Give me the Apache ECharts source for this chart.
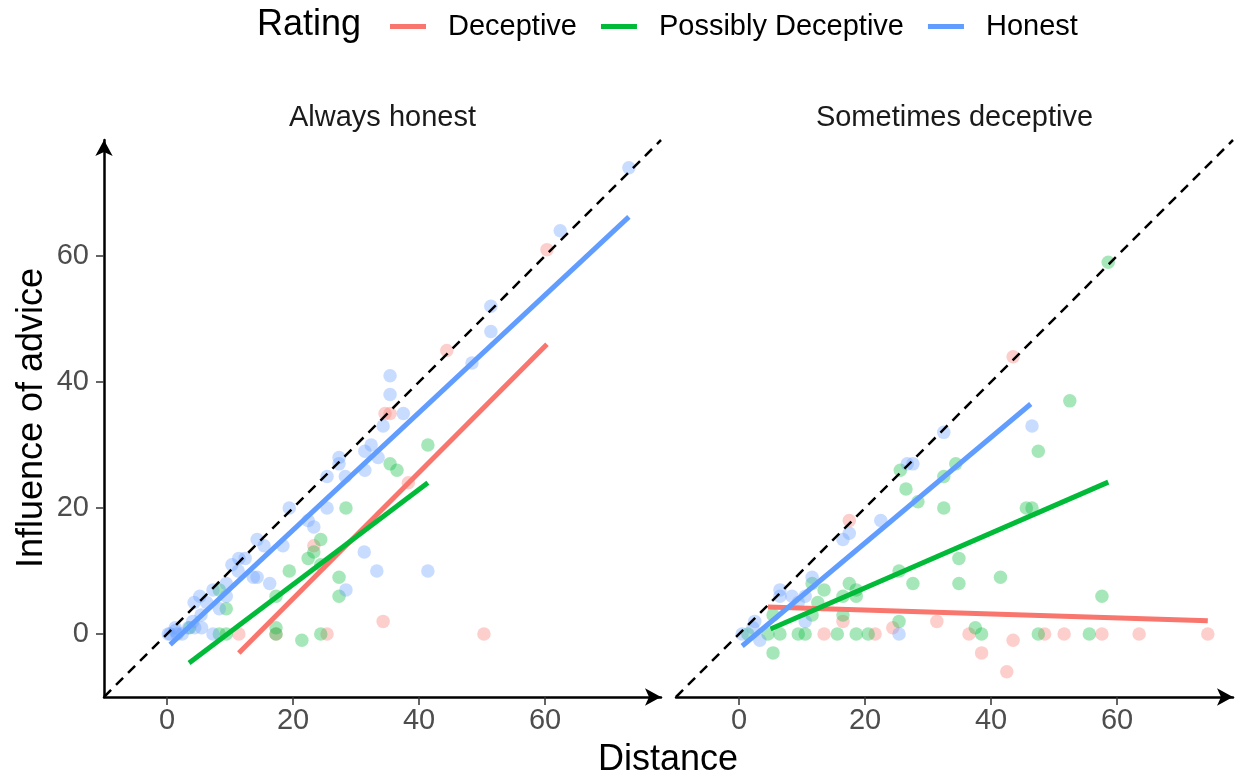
<!DOCTYPE html>
<html>
<head>
<meta charset="utf-8">
<script src="https://cdn.jsdelivr.net/npm/echarts@6/dist/echarts.min.js"></script>
<style>
  html, body { margin: 0; padding: 0; background: #ffffff; }
  #chart { width: 1246px; height: 776px; }
</style>
</head>
<body>
<div id="chart"></div>
<script>
// Facets, rating groups and their colours
const panels = ['Always honest', 'Sometimes deceptive'];
const ratings = ['Deceptive', 'Possibly Deceptive', 'Honest'];
const ratingColors = ['#F8766D', '#00BA38', '#619CFF'];

// Axis ticks and shared axis range (Distance / Influence of advice)
const xTicks = [0, 20, 40, 60];
const yTicks = [0, 20, 40, 60];
const axisMin = -10;
const axisMax = 78.4;

// Always honest: [distance, influence] per rating
const alwaysDeceptive = [
  [60.3, 61], [44.4, 45], [34.6, 35], [35.4, 35], [38.3, 24], [23.3, 14],
  [34.3, 2], [11.4, 0], [25.4, 0], [50.3, 0], [17.3, 0]
];
const alwaysPossibly = [
  [41.4, 30], [35.4, 27], [36.5, 26], [28.4, 20], [24.4, 15], [23.3, 13],
  [22.4, 12], [24.4, 11], [19.4, 10], [27.3, 9], [27.3, 6], [17.3, 6],
  [17.3, 1], [17.3, 0], [21.4, -1], [24.4, 0], [8.3, 7], [9.4, 4],
  [8.3, 0], [9.4, 0], [3.6, 1]
];
const alwaysHonest = [
  [73.3, 74], [62.4, 64], [51.4, 52], [51.4, 48], [48.4, 43],
  [35.4, 41], [35.4, 38], [37.5, 35], [34.3, 33],
  [32.4, 30], [31.4, 29], [33.5, 28], [31.4, 26],
  [27.3, 28], [27.3, 27], [25.4, 25], [28.3, 25],
  [19.4, 20], [25.4, 20], [22.4, 18], [23.3, 17],
  [14.3, 15], [15.4, 14], [18.4, 14],
  [11.4, 12], [12.4, 12], [10.3, 11], [11.3, 10],
  [13.7, 9], [14.3, 9], [16.3, 8],
  [31.3, 13], [33.3, 10], [41.4, 10], [28.4, 7],
  [7.3, 7], [9.4, 8], [9.4, 6], [8.3, 4],
  [4.3, 5], [5.2, 6], [6.3, 5], [5.4, 3], [4.1, 2], [5.5, 1], [4.4, 1],
  [1.3, 1], [0.2, 0], [0.5, 0], [1.3, 0.5], [1.6, 0], [2.4, 0], [3.4, 1],
  [7.3, 0]
];

// Sometimes deceptive: [distance, influence] per rating
const sometimesDeceptive = [
  [43.5, 44], [17.5, 18], [16.5, 2], [24.4, 1], [31.4, 2], [13.5, 0],
  [21.6, 0], [36.5, 0], [38.5, -3], [43.5, -1], [42.5, -6], [48.5, 0],
  [51.6, 0], [57.6, 0], [63.5, 0], [74.4, 0]
];
const sometimesPossibly = [
  [58.6, 59], [52.5, 37], [47.5, 29], [45.6, 20], [46.5, 20],
  [34.4, 27], [32.5, 25], [25.6, 26], [26.5, 23], [28.4, 21], [32.5, 20],
  [34.9, 12], [34.9, 8], [41.5, 9], [57.6, 6], [25.4, 10], [27.6, 8],
  [11.6, 8], [13.5, 7], [17.5, 8], [18.6, 7], [18.6, 6], [16.5, 6], [16.5, 3],
  [25.4, 2], [37.5, 1], [38.5, 0], [47.5, 0], [55.6, 0],
  [15.6, 0], [18.6, 0], [20.5, 0], [9.4, 0], [10.5, 0],
  [11.6, 3], [12.5, 5], [5.4, 3], [1.4, 0], [5.4, -3], [4.6, 0], [6.5, 0]
];
const sometimesHonest = [
  [32.5, 32], [26.7, 27], [27.6, 27], [46.5, 33],
  [17.5, 16], [16.5, 15], [22.5, 18], [11.6, 9], [25.4, 0],
  [6.5, 7], [6.5, 6], [8.4, 6], [9.4, 5], [10.5, 6], [10.5, 2],
  [2.5, 2], [0.5, 0], [3.3, -1], [2.2, 1]
];

// Linear fits per rating: [x start, y start, x end, y end]
const alwaysFits = [
  [11.4, -3, 60.3, 46],
  [3.5, -4.6, 41.4, 24],
  [0.5, -1.7, 73.3, 66.2]
];
const sometimesFits = [
  [4.6, 4.3, 74.4, 2.1],
  [5.0, 0.8, 58.6, 24.1],
  [0.5, -1.9, 46.3, 36.5]
];

const panelPoints = [
  [alwaysDeceptive, alwaysPossibly, alwaysHonest],
  [sometimesDeceptive, sometimesPossibly, sometimesHonest]
];
const panelFits = [alwaysFits, sometimesFits];

const FONT = 'Liberation Sans, Arial, Helvetica, sans-serif';
const gridLefts = [104, 676];
const gridWidth = 557;

const grids = gridLefts.map(l => ({ left: l, top: 140, width: gridWidth, height: 557 }));

const xAxes = [0, 1].map(i => ({
  type: 'value', gridIndex: i, min: axisMin, max: axisMax,
  splitLine: { show: false },
  axisLine: { show: true, onZero: false, symbol: ['none', 'arrow'], symbolSize: [13, 16],
              lineStyle: { color: '#000', width: 2.5 } },
  axisTick: { show: true, length: 8, customValues: xTicks,
              lineStyle: { color: '#333', width: 1.5 } },
  axisLabel: { show: true, customValues: xTicks, margin: 9,
               fontSize: 29, color: '#4D4D4D', fontFamily: FONT }
}));

const yAxes = [0, 1].map(i => ({
  type: 'value', gridIndex: i, min: axisMin, max: axisMax,
  splitLine: { show: false },
  axisLine: { show: i === 0, onZero: false, symbol: ['none', 'arrow'], symbolSize: [13, 16],
              lineStyle: { color: '#000', width: 2.5 } },
  axisTick: { show: i === 0, length: 8, customValues: yTicks,
              lineStyle: { color: '#333', width: 1.5 } },
  axisLabel: { show: i === 0, customValues: yTicks, margin: 15,
               fontSize: 29, color: '#4D4D4D', fontFamily: FONT }
}));

const series = [];
// Fitted lines first so the legend picks up their style
for (let p = 0; p < 2; p++) {
  ratings.forEach((r, k) => {
    const f = panelFits[p][k];
    series.push({
      name: r, type: 'line', xAxisIndex: p, yAxisIndex: p,
      data: [[f[0], f[1]], [f[2], f[3]]],
      showSymbol: false, silent: true, z: 5,
      itemStyle: { color: ratingColors[k] },
      lineStyle: { color: ratingColors[k], width: 5 }
    });
  });
}
// Identity reference line (influence = distance)
for (let p = 0; p < 2; p++) {
  series.push({
    name: 'identity', type: 'line', xAxisIndex: p, yAxisIndex: p,
    data: [[axisMin, axisMin], [axisMax, axisMax]],
    showSymbol: false, silent: true, z: 4,
    lineStyle: { color: '#000', width: 2.5, type: [10, 7] }
  });
}
// Individual observations
for (let p = 0; p < 2; p++) {
  ratings.forEach((r, k) => {
    series.push({
      name: r, type: 'scatter', xAxisIndex: p, yAxisIndex: p,
      data: panelPoints[p][k], symbolSize: 13.5, z: 2,
      itemStyle: { color: ratingColors[k], opacity: 0.35 }
    });
  });
}

const graphics = [
  { type: 'text', x: 668, y: 760,
    style: { text: 'Distance', fontSize: 36, fontFamily: FONT, fill: '#000',
             align: 'center', verticalAlign: 'middle' } },
  { type: 'text', x: 32, y: 418, rotation: Math.PI / 2,
    style: { text: 'Influence of advice', fontSize: 36, fontFamily: FONT, fill: '#000',
             align: 'center', verticalAlign: 'middle' } },
  { type: 'text', x: 257, y: 25,
    style: { text: 'Rating', fontSize: 36, fontFamily: FONT, fill: '#000',
             align: 'left', verticalAlign: 'middle' } }
];
panels.forEach((name, i) => {
  graphics.push({
    type: 'text', x: gridLefts[i] + gridWidth / 2, y: 118,
    style: { text: name, fontSize: 29, fontFamily: FONT, fill: '#1A1A1A',
             align: 'center', verticalAlign: 'middle' }
  });
});

const chart = echarts.init(document.getElementById('chart'), null, { renderer: 'canvas' });
chart.setOption({
  backgroundColor: '#ffffff',
  animation: false,
  grid: grids,
  xAxis: xAxes,
  yAxis: yAxes,
  legend: {
    data: ratings, left: 385, top: 7,
    icon: 'rect', itemWidth: 36, itemHeight: 5, itemGap: 24,
    selectedMode: false,
    textStyle: { fontSize: 29, color: '#000', fontFamily: FONT, padding: [0, 0, 0, 17] }
  },
  graphic: graphics,
  series: series
});
</script>
</body>
</html>
